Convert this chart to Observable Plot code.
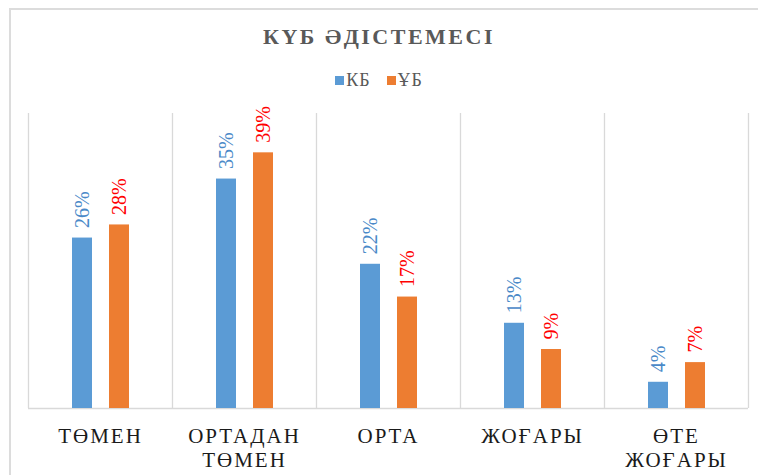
<!DOCTYPE html>
<html>
<head>
<meta charset="utf-8">
<script src="https://cdn.jsdelivr.net/npm/d3@7"></script>
<script src="https://cdn.jsdelivr.net/npm/@observablehq/plot@0.6"></script>
<style>
  body { margin: 0; width: 758px; height: 475px; overflow: hidden; background: #fff; position: relative;
         font-family: "Liberation Serif", "Noto Serif CJK SC", serif; }
  #frame { position: absolute; left: 9px; top: 8px; width: 800px; height: 600px; border: 2px solid #dcdcdc; z-index: 2; pointer-events: none; }
  #title { position: absolute; left: 0; top: 22px; width: 758px; text-align: center; font-weight: bold;
           font-size: 22px; letter-spacing: 2.5px; color: #595959; line-height: 30px; }
  #legend { position: absolute; left: 0; top: 68px; width: 758px; display: flex; justify-content: center;
            align-items: center; font-size: 18px; color: #595959; line-height: 24px; letter-spacing: 1px; }
  #legend .item { display: flex; align-items: center; margin: 0 8px; }
  #legend .sw { width: 9px; height: 9px; margin-right: 2px; }
  #chart { position: absolute; left: 0; top: 95px; }
  #chart svg { background: none !important; }
  g[aria-label="x-axis tick label"] text { letter-spacing: 2px; }
</style>
</head>
<body>
<div id="frame"></div>
<div id="title"></div>
<div id="legend"></div>
<div id="chart"></div>
<script>
const titleText = "\u041A\u04AE\u0411 \u04D8\u0414\u0406\u0421\u0422\u0415\u041C\u0415\u0421\u0406"; // КҮБ ӘДІСТЕМЕСІ
const categories = ["ТӨМЕН", "ОРТАДАН ТӨМЕН", "ОРТА", "ЖОҒАРЫ", "ӨТЕ ЖОҒАРЫ"];
const tickLabels = ["ТӨМЕН", "ОРТАДАН\nТӨМЕН", "ОРТА", "ЖОҒАРЫ", "ӨТЕ\nЖОҒАРЫ"];
const seriesNames = ["КБ", "ҰБ"];
const kbValues = [26, 35, 22, 13, 4];
const ubValues = [28, 39, 17, 9, 7];
const seriesColors = ["#5B9BD5", "#ED7D31"];
const labelColors = ["#4A89C8", "#FF0000"];

const data = categories.map((c, i) => ({cat: c, kb: kbValues[i], ub: ubValues[i]}));

document.getElementById("title").textContent = titleText;

const legend = document.getElementById("legend");
seriesNames.forEach((s, i) => {
  const it = document.createElement("div");
  it.className = "item";
  it.innerHTML = `<span class="sw" style="background:${seriesColors[i]}"></span><span>${s}</span>`;
  legend.appendChild(it);
});

const W = 758, H = 380, mL = 28, mR = 10;
const band = (W - mL - mR) / categories.length;
const serif = "'Liberation Serif', 'Noto Serif CJK SC', serif";

const chart = Plot.plot({
  width: W,
  height: H,
  marginLeft: mL,
  marginRight: mR,
  marginTop: 18,
  marginBottom: 67,
  style: {fontFamily: serif, background: "none"},
  x: {domain: categories, padding: 0, label: null},
  y: {domain: [0, 45], axis: null},
  marks: [
    Plot.ruleX(categories, {x: d => d, dx: -band / 2, y1: 0, y2: 45, stroke: "#d9d9d9", strokeWidth: 1.3}),
    Plot.ruleX(categories.slice(-1), {x: d => d, dx: band / 2, y1: 0, y2: 45, stroke: "#d9d9d9", strokeWidth: 1.3}),
    Plot.ruleY([0], {stroke: "#d9d9d9", strokeWidth: 1.5}),
    Plot.barY(data, {x: "cat", y: "kb", fill: seriesColors[0], insetLeft: 44, insetRight: 80}),
    Plot.barY(data, {x: "cat", y: "ub", fill: seriesColors[1], insetLeft: 81, insetRight: 43}),
    Plot.text(data, {x: "cat", y: "kb", text: d => d.kb + "%", rotate: -90, textAnchor: "start",
      dx: -18, dy: -10, fill: labelColors[0], fontSize: 20, fontFamily: serif}),
    Plot.text(data, {x: "cat", y: "ub", text: d => d.ub + "%", rotate: -90, textAnchor: "start",
      dx: 19, dy: -10, fill: labelColors[1], fontSize: 20, fontFamily: serif}),
    Plot.axisX({tickSize: 0, tickPadding: 17, fontSize: 21, lineHeight: 1.15, fill: "#1a1a1a", fontFamily: serif,
      tickFormat: d => tickLabels[categories.indexOf(d)], label: null})
  ]
});
document.getElementById("chart").appendChild(chart);
</script>
</body>
</html>
